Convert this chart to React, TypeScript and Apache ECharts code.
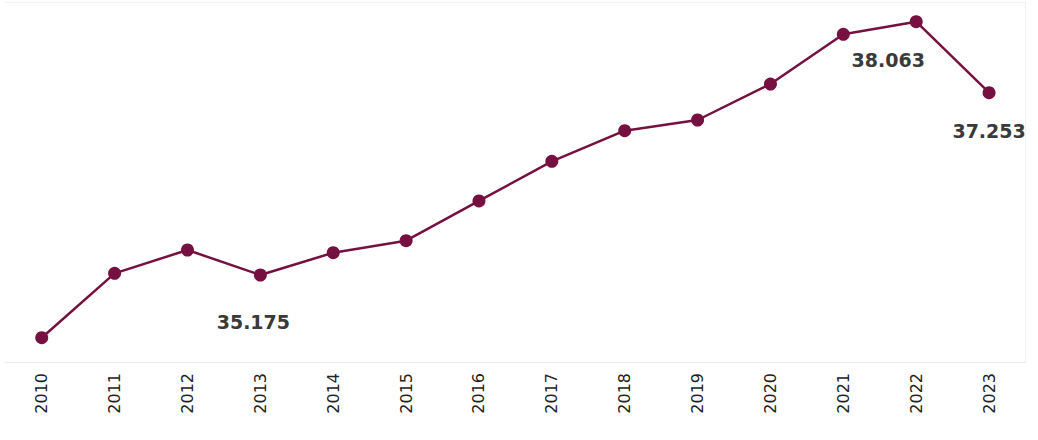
import React, { useEffect, useRef } from "react";
import * as echarts from "echarts";

const years = ["2010", "2011", "2012", "2013", "2014", "2015", "2016", "2017", "2018", "2019", "2020", "2021", "2022", "2023"];
const values = [34.46, 35.194, 35.46, 35.175, 35.429, 35.566, 36.019, 36.471, 36.82, 36.942, 37.352, 37.919, 38.063, 37.253];
const labelledYears = ["2013", "2022", "2023"];
const labelOffsets: Record<string, number[]> = { "2013": [-7, 47], "2022": [-28, 38], "2023": [0, 38] };

export default function App() {
  const ref = useRef<HTMLDivElement>(null);
  useEffect(() => {
    if (!ref.current) return;
    const chart = echarts.init(ref.current, null, { renderer: "svg" });
    const data = values.map((v, i) => {
      const y = years[i];
      if (labelledYears.includes(y)) {
        return {
          value: v,
          label: {
            show: true,
            position: "inside",
            offset: labelOffsets[y],
            formatter: (p: any) => Number(p.value).toFixed(3),
            fontFamily: "DejaVu Sans",
            fontWeight: "bold",
            fontSize: 19,
            color: "#3a3a3a",
          },
        };
      }
      return { value: v };
    });
    chart.setOption({
      animation: false,
      backgroundColor: "#ffffff",
      grid: {
        left: 5.3,
        right: 12.5,
        top: 2,
        bottom: 78,
        show: false,
      },
      xAxis: [
        {
          type: "category",
          data: years,
          boundaryGap: true,
          axisLine: { show: true, lineStyle: { color: "#ececec", width: 1 } },
          axisTick: { show: false },
          axisLabel: {
            rotate: 90,
            margin: 11,
            fontFamily: "DejaVu Sans",
            fontSize: 16,
            color: "#222222",
          },
          splitLine: { show: false },
        },
        {
          type: "category",
          data: years,
          position: "top",
          axisLine: { show: true, lineStyle: { color: "#f3f3f3", width: 1 } },
          axisTick: { show: false },
          axisLabel: { show: false },
          splitLine: { show: false },
        },
      ],
      yAxis: {
        type: "value",
        min: 34.1832,
        max: 38.2872,
        position: "right",
        axisLine: { show: true, lineStyle: { color: "#f1f1f1", width: 1 } },
        axisTick: { show: false },
        axisLabel: { show: false },
        splitLine: { show: false },
      },
      series: [
        {
          type: "line",
          data,
          symbol: "circle",
          symbolSize: 13,
          lineStyle: { color: "#761040", width: 2.5 },
          itemStyle: { color: "#761040" },
          label: { show: false },
        },
      ],
    });
    return () => chart.dispose();
  }, []);
  return (
    <div
      ref={ref}
      style={{ position: "fixed", left: 0, top: 0, width: 1038, height: 440, background: "#fff" }}
    />
  );
}
